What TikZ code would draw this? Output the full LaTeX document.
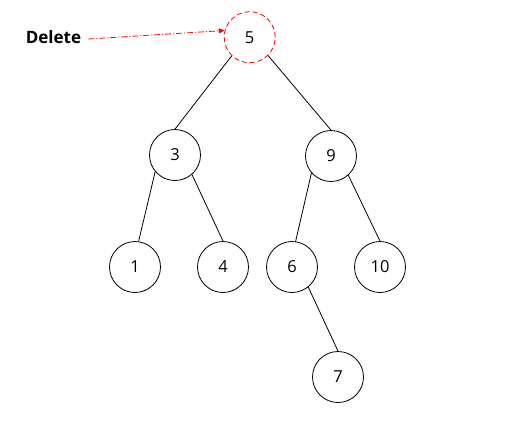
\documentclass[tikz,border=0pt]{standalone}
\usepackage{fontspec}
\setmainfont{Open Sans}
\usetikzlibrary{arrows.meta}
\begin{document}
\begin{tikzpicture}[x=1pt,y=-1pt,
  treenode/.style={circle,draw=black,line width=0.8pt,minimum size=51pt,inner sep=0pt,
    font=\fontsize{16.5}{18}\selectfont},
  removed/.style={treenode,draw=red,dash pattern=on 5pt off 3pt},
  branch/.style={draw=black,line width=0.8pt},
  pointer/.style={draw=red,line width=0.8pt,dash pattern=on 6pt off 2pt on 1pt off 2pt,
    -{Triangle[length=6pt,width=5pt]}}]
\useasboundingbox (0,0) rectangle (506,432);
% tree nodes
\node[removed]  (n5)  at (249.7,37.2) {5};
\node[treenode] (n3)  at (175,155)    {3};
\node[treenode] (n9)  at (331,156)    {9};
\node[treenode] (n1)  at (135,267)    {1};
\node[treenode] (n4)  at (223,267)    {4};
\node[treenode] (n6)  at (292,267)    {6};
\node[treenode] (n10) at (380,267)    {10};
\node[treenode] (n7)  at (338,377)    {7};
% label
\node[font=\bfseries\fontsize{17}{19}\selectfont,inner sep=0pt] (del) at (53.5,37) {Delete};
% branches
\draw[branch] (n5.226) -- (n3.north);
\draw[branch] (n5.315) -- (n9.north);
\draw[branch] (n3.220) -- (n1.82);
\draw[branch] (n3.311) -- (n4.north);
\draw[branch] (n9.221) -- (n6.82);
\draw[branch] (n9.312) -- (n10.north);
\draw[branch] (n6.309) -- (n7.north);
% pointer to the removed key
\draw[pointer] ([xshift=7pt,yshift=-2pt]del.east) -- (n5.165);
\end{tikzpicture}
\end{document}
